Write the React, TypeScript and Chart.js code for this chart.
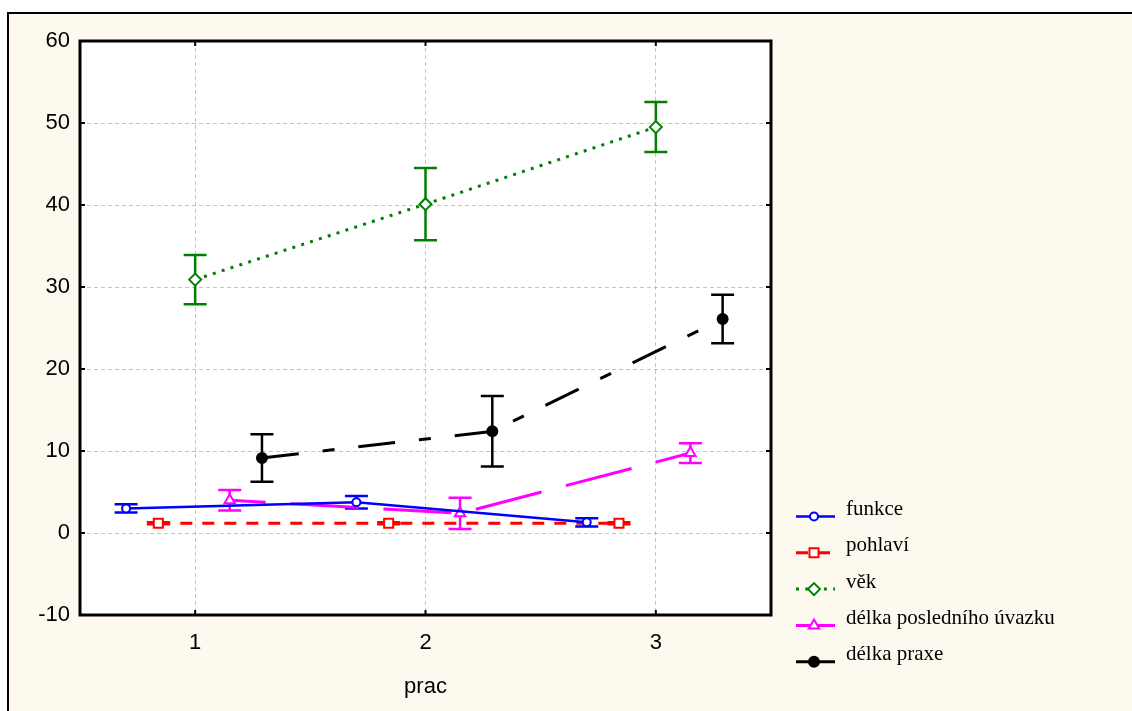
import React, { useEffect, useRef } from "react";
import { Chart, registerables } from "chart.js";

Chart.register(...registerables);

// ---- data ----
const categories = [1, 2, 3];
const xTickLabels = ["1", "2", "3"];
const yTickValues = [-10, 0, 10, 20, 30, 40, 50, 60];
const xAxisTitle = "prac";
const seriesNames = ["funkce", "pohlaví", "věk", "délka posledního úvazku", "délka praxe"];

const funkceMeans = [3.0, 3.75, 1.3];
const funkceErr = [0.5, 0.75, 0.5];
const pohlaviMeans = [1.2, 1.2, 1.2];
const pohlaviErr = [0.12, 0.12, 0.12];
const vekMeans = [30.9, 40.1, 49.5];
const vekErr = [3.0, 4.4, 3.05];
const uvazekMeans = [4.0, 2.4, 9.75];
const uvazekErr = [1.25, 1.9, 1.2];
const praxeMeans = [9.15, 12.4, 26.1];
const praxeErr = [2.9, 4.3, 2.95];

const allMeans = [funkceMeans, pohlaviMeans, vekMeans, uvazekMeans, praxeMeans];
const allErr = [funkceErr, pohlaviErr, vekErr, uvazekErr, praxeErr];

// ---- layout / style ----
const W = 1132;
const H = 711;
const seriesOffsets = [-0.3, -0.16, 0, 0.15, 0.29];
const CREAM = "#FEF9EE";
const styles = [
  { color: "#0000FF", width: 2.5, dash: [] as number[], dashOffset: 0, pointStyle: "circle", radius: 4, fill: "#FFFFFF" },
  { color: "#FF0000", width: 3, dash: [12, 10], dashOffset: 0, pointStyle: "rect", radius: 6.4, fill: "#FFFFFF" },
  { color: "#008000", width: 3, dash: [3, 6.3], dashOffset: 0, pointStyle: "rectRot", radius: 6, fill: "#FFFFFF" },
  { color: "#FF00FF", width: 3, dash: [68, 25], dashOffset: 32, pointStyle: "triangle", radius: 6, fill: "#FFFFFF" },
  { color: "#000000", width: 3, dash: [37, 24, 12, 24], dashOffset: 0, pointStyle: "circle", radius: 5, fill: "#000000" },
];

const PLOT = { left: 80, top: 41, right: 771, bottom: 615 };

function drawMarker(ctx: CanvasRenderingContext2D, style: any, x: number, y: number) {
  const r = style.radius;
  ctx.save();
  ctx.setLineDash([]);
  ctx.lineWidth = 2;
  ctx.strokeStyle = style.color;
  ctx.fillStyle = style.fill;
  ctx.beginPath();
  if (style.pointStyle === "circle") {
    ctx.arc(x, y, r, 0, Math.PI * 2);
  } else if (style.pointStyle === "rect") {
    const s = r * Math.SQRT1_2;
    ctx.rect(x - s, y - s, 2 * s, 2 * s);
  } else if (style.pointStyle === "rectRot") {
    ctx.moveTo(x, y - r);
    ctx.lineTo(x + r, y);
    ctx.lineTo(x, y + r);
    ctx.lineTo(x - r, y);
    ctx.closePath();
  } else if (style.pointStyle === "triangle") {
    let a = 0;
    ctx.moveTo(x + Math.sin(a) * r, y - Math.cos(a) * r);
    a += (2 * Math.PI) / 3;
    ctx.lineTo(x + Math.sin(a) * r, y - Math.cos(a) * r);
    a += (2 * Math.PI) / 3;
    ctx.lineTo(x + Math.sin(a) * r, y - Math.cos(a) * r);
    ctx.closePath();
  }
  ctx.fill();
  ctx.stroke();
  ctx.restore();
}

const backgroundPlugin = {
  id: "bgPanel",
  beforeDraw(chart: any) {
    const ctx = chart.ctx as CanvasRenderingContext2D;
    const ca = chart.chartArea;
    ctx.save();
    ctx.fillStyle = "#FFFFFF";
    ctx.fillRect(0, 0, W, H);
    ctx.fillStyle = CREAM;
    ctx.fillRect(8, 13, W, H);
    ctx.strokeStyle = "#000000";
    ctx.lineWidth = 2;
    ctx.beginPath();
    ctx.moveTo(8, H + 5);
    ctx.lineTo(8, 13);
    ctx.lineTo(W + 5, 13);
    ctx.stroke();
    ctx.fillStyle = "#FFFFFF";
    ctx.fillRect(ca.left, ca.top, ca.right - ca.left, ca.bottom - ca.top);
    ctx.restore();
  },
};

const errorBarPlugin = {
  id: "errorBars",
  beforeDatasetsDraw(chart: any) {
    const ctx = chart.ctx as CanvasRenderingContext2D;
    const xs = chart.scales.x;
    const ys = chart.scales.y;
    ctx.save();
    ctx.setLineDash([]);
    chart.data.datasets.forEach((ds: any) => {
      ctx.strokeStyle = ds.borderColor;
      ctx.lineWidth = 2.5;
      ds.data.forEach((p: any, j: number) => {
        const e = ds.errors[j];
        const px = xs.getPixelForValue(p.x);
        const top = ys.getPixelForValue(p.y + e);
        const bot = ys.getPixelForValue(p.y - e);
        ctx.beginPath();
        ctx.moveTo(px, top);
        ctx.lineTo(px, bot);
        ctx.moveTo(px - 11.5, top);
        ctx.lineTo(px + 11.5, top);
        ctx.moveTo(px - 11.5, bot);
        ctx.lineTo(px + 11.5, bot);
        ctx.stroke();
      });
    });
    ctx.restore();
  },
};

const framePlugin = {
  id: "frameLegend",
  afterDraw(chart: any) {
    const ctx = chart.ctx as CanvasRenderingContext2D;
    const ca = chart.chartArea;
    const xs = chart.scales.x;
    const ys = chart.scales.y;
    ctx.save();
    ctx.setLineDash([]);
    ctx.strokeStyle = "#000000";
    // inner ticks
    ctx.lineWidth = 2;
    ctx.beginPath();
    yTickValues.forEach((v) => {
      const py = ys.getPixelForValue(v);
      ctx.moveTo(ca.left, py);
      ctx.lineTo(ca.left + 5, py);
      ctx.moveTo(ca.right, py);
      ctx.lineTo(ca.right - 5, py);
    });
    categories.forEach((v) => {
      const px = xs.getPixelForValue(v);
      ctx.moveTo(px, ca.top);
      ctx.lineTo(px, ca.top + 5);
      ctx.moveTo(px, ca.bottom);
      ctx.lineTo(px, ca.bottom - 5);
    });
    ctx.stroke();
    // frame
    ctx.lineWidth = 3;
    ctx.strokeRect(ca.left, ca.top, ca.right - ca.left, ca.bottom - ca.top);

    // legend
    const rowY0 = 516.5;
    const rowStep = 36.3;
    chart.data.datasets.forEach((ds: any, i: number) => {
      const st = styles[i];
      const y = rowY0 + i * rowStep;
      ctx.save();
      ctx.strokeStyle = st.color;
      ctx.lineWidth = st.width;
      ctx.setLineDash(i === 3 || i === 4 ? [] : st.dash);
      ctx.beginPath();
      ctx.moveTo(796, y);
      ctx.lineTo(835, y);
      ctx.stroke();
      ctx.restore();
      drawMarker(ctx, st, 814, y);
      ctx.fillStyle = "#000000";
      ctx.font = '21px "Liberation Serif", "Times New Roman", serif';
      ctx.textAlign = "left";
      ctx.textBaseline = "alphabetic";
      ctx.fillText(ds.label, 846, y - 1.5);
    });
    ctx.restore();
  },
};

export default function App() {
  const canvasRef = useRef<HTMLCanvasElement | null>(null);

  useEffect(() => {
    if (!canvasRef.current) return;
    const datasets = seriesNames.map((name, i) => {
      const st = styles[i];
      return {
        label: name,
        data: categories.map((c, j) => ({ x: c + seriesOffsets[i], y: allMeans[i][j] })),
        errors: allErr[i],
        borderColor: st.color,
        backgroundColor: st.color,
        borderWidth: st.width,
        borderDash: st.dash,
        borderDashOffset: st.dashOffset,
        pointStyle: st.pointStyle,
        pointRadius: st.radius,
        pointBorderWidth: 2,
        pointBorderColor: st.color,
        pointBackgroundColor: st.fill,
        tension: 0,
        fill: false,
        clip: false,
      } as any;
    });

    const tickFont = { family: '"Liberation Sans", Arial, sans-serif', size: 22 };

    const chart = new Chart(canvasRef.current, {
      type: "line",
      data: { datasets },
      options: {
        responsive: false,
        devicePixelRatio: 1,
        animation: false,
        events: [],
        layout: { padding: { left: 0, top: PLOT.top, right: W - PLOT.right, bottom: 0 } },
        plugins: { legend: { display: false }, tooltip: { enabled: false }, title: { display: false } },
        scales: {
          x: {
            type: "linear",
            min: 0.5,
            max: 3.5,
            afterBuildTicks: (s: any) => {
              s.ticks = categories.map((v) => ({ value: v }));
            },
            afterFit: (s: any) => {
              s.height = H - PLOT.bottom;
            },
            ticks: {
              callback: (_v: any, idx: number) => xTickLabels[idx],
              font: tickFont,
              color: "#000000",
              padding: 15,
              maxRotation: 0,
              autoSkip: false,
            },
            grid: { color: "#C4C4C4", lineWidth: 1, drawTicks: false },
            border: { display: false, dash: [4, 3] },
            title: {
              display: true,
              text: xAxisTitle,
              font: tickFont,
              color: "#000000",
              padding: { top: 0, bottom: 11 },
            },
          },
          y: {
            type: "linear",
            min: -10,
            max: 60,
            afterBuildTicks: (s: any) => {
              s.ticks = yTickValues.map((v) => ({ value: v }));
            },
            afterFit: (s: any) => {
              s.width = PLOT.left;
            },
            ticks: { font: tickFont, color: "#000000", padding: 10 },
            grid: { color: "#C4C4C4", lineWidth: 1, drawTicks: false },
            border: { display: false, dash: [4, 3] },
          },
        },
      } as any,
      plugins: [backgroundPlugin, errorBarPlugin, framePlugin],
    });
    return () => chart.destroy();
  }, []);

  return (
    <div style={{ position: "fixed", left: 0, top: 0, width: W, height: H }}>
      <canvas ref={canvasRef} width={W} height={H} style={{ display: "block", width: W, height: H }} />
    </div>
  );
}
